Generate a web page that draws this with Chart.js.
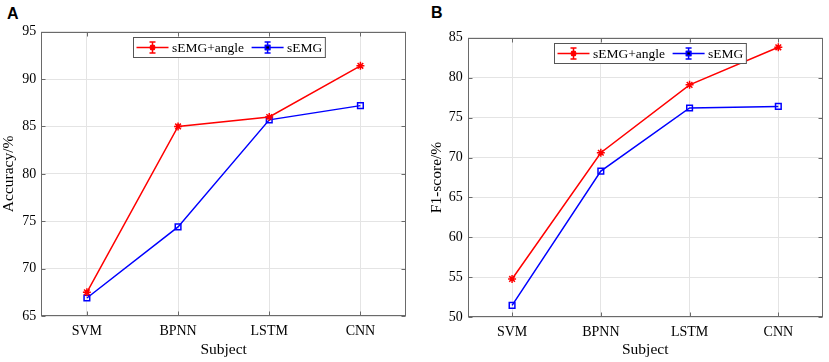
<!DOCTYPE html>
<html>
<head>
<meta charset="utf-8">
<script src="https://cdn.jsdelivr.net/npm/chart.js@4.4.1/dist/chart.umd.min.js"></script>
<style>
  html, body { margin: 0; padding: 0; background: #fff; }
  #wrap { position: relative; width: 829px; height: 362px; overflow: hidden; }
  canvas { position: absolute; top: 0; }
  .tag { position: absolute; font: bold 16px "Liberation Sans", Arial, sans-serif; color: #000; }
</style>
</head>
<body>
<div id="wrap">
  <div class="tag" style="left:7px; top:5px;">A</div>
  <div class="tag" style="left:431px; top:4px;">B</div>
  <canvas id="chartA" width="414" height="362" style="left:0px;"></canvas>
  <canvas id="chartB" width="401" height="362" style="left:428px;"></canvas>
</div>
<script>
// data
var subjects = ['SVM', 'BPNN', 'LSTM', 'CNN'];
var accAngle = [67.5, 85.0, 86.0, 91.4];
var accEmg = [66.9, 74.4, 85.7, 87.2];
var f1Angle = [54.8, 70.6, 79.1, 83.8];
var f1Emg = [51.5, 68.3, 76.2, 76.4];
var seriesNames = ['sEMG+angle', 'sEMG'];

var serif = '"Liberation Serif", "Times New Roman", serif';
var axisColor = '#6a6a6a';
var gridColor = '#e4e4e4';

// box round the plot with inward ticks, plus the MATLAB-style legend inside it
var framePlugin = {
  id: 'frame',
  afterDraw: function(chart) {
    var ctx = chart.ctx, a = chart.chartArea, x = chart.scales.x, y = chart.scales.y;
    var L = Math.round(a.left) + 0.5, R = Math.round(a.right) - 0.5;
    var T = Math.round(a.top) + 0.5, B = Math.round(a.bottom) - 0.5;
    ctx.save();
    ctx.strokeStyle = axisColor;
    ctx.lineWidth = 1;
    ctx.strokeRect(L, T, R - L, B - T);
    ctx.beginPath();
    for (var i = 0; i < x.ticks.length; i++) {
      var px = Math.round(x.getPixelForTick(i)) + 0.5;
      ctx.moveTo(px, B); ctx.lineTo(px, B - 4);
      ctx.moveTo(px, T); ctx.lineTo(px, T + 4);
    }
    for (var j = 0; j < y.ticks.length; j++) {
      var py = Math.round(y.getPixelForTick(j)) + 0.5;
      ctx.moveTo(L, py); ctx.lineTo(L + 4, py);
      ctx.moveTo(R, py); ctx.lineTo(R - 4, py);
    }
    ctx.stroke();

    // legend
    var ds = chart.data.datasets;
    ctx.font = '13.5px ' + serif;
    var lineLen = 32, pad = 3, gapText = 3.5, gapItem = 7.5;
    var w = pad;
    ds.forEach(function(d, k) {
      w += lineLen + gapText + ctx.measureText(d.label).width + (k < ds.length - 1 ? gapItem : pad);
    });
    var h = 20;
    var bx = Math.round((a.left + a.right) / 2 + 5 - w / 2) + 0.5;
    var by = Math.round(a.top + 5) + 0.5;
    ctx.fillStyle = '#fff';
    ctx.fillRect(bx, by, w, h);
    ctx.strokeStyle = '#555';
    ctx.strokeRect(bx, by, w, h);
    var cx = bx + pad, cy = by + h / 2;
    ds.forEach(function(d, k) {
      ctx.strokeStyle = d.borderColor;
      ctx.lineWidth = 1.5;
      ctx.beginPath();
      ctx.moveTo(cx, cy); ctx.lineTo(cx + lineLen, cy);
      var mx = cx + lineLen / 2;
      ctx.moveTo(mx, cy - 5.5); ctx.lineTo(mx, cy + 5.5);
      ctx.moveTo(mx - 3, cy - 5.5); ctx.lineTo(mx + 3, cy - 5.5);
      ctx.moveTo(mx - 3, cy + 5.5); ctx.lineTo(mx + 3, cy + 5.5);
      ctx.stroke();
      Chart.helpers.drawPoint(ctx, {
        pointStyle: d.pointStyle, radius: 3, rotation: 0, borderWidth: 1.5
      }, mx, cy);
      ctx.stroke();
      cx += lineLen + gapText;
      ctx.fillStyle = '#000';
      ctx.textBaseline = 'middle';
      ctx.textAlign = 'left';
      ctx.fillText(d.label, cx, cy + 0.5);
      cx += ctx.measureText(d.label).width + gapItem;
    });
    ctx.restore();
  }
};

function makeChart(id, angleVals, emgVals, yMin, yMax, yTitle, pad, yWidth, xHeight) {
  return new Chart(document.getElementById(id), {
    type: 'line',
    data: {
      labels: subjects,
      datasets: [
        {
          label: seriesNames[0],
          data: angleVals,
          borderColor: '#ff0000',
          backgroundColor: 'transparent',
          borderWidth: 1.5,
          pointStyle: 'star',
          pointRadius: 4,
          pointBorderWidth: 1.5,
          pointBorderColor: '#ff0000',
          tension: 0
        },
        {
          label: seriesNames[1],
          data: emgVals,
          borderColor: '#0000ff',
          backgroundColor: 'transparent',
          borderWidth: 1.5,
          pointStyle: 'rect',
          pointRadius: 4,
          pointBorderWidth: 1.5,
          pointBorderColor: '#0000ff',
          pointBackgroundColor: 'transparent',
          tension: 0
        }
      ]
    },
    options: {
      animation: false,
      responsive: false,
      layout: { padding: pad },
      plugins: {
        legend: { display: false },
        tooltip: { enabled: false }
      },
      scales: {
        x: {
          type: 'category',
          offset: true,
          afterFit: function(s) { s.height = xHeight; },
          grid: { color: gridColor, drawTicks: false, lineWidth: 1 },
          border: { display: false },
          ticks: { color: '#000', padding: 7, font: { family: serif, size: 14 } },
          title: { display: true, text: 'Subject', color: '#000', padding: 0, font: { family: serif, size: 15.5 } }
        },
        y: {
          type: 'linear',
          min: yMin,
          max: yMax,
          afterFit: function(s) { s.width = yWidth; },
          grid: { color: gridColor, drawTicks: false, lineWidth: 1 },
          border: { display: false },
          ticks: { stepSize: 5, color: '#000', padding: 5, font: { family: serif, size: 14 } },
          title: { display: true, text: yTitle, color: '#000', padding: 0, font: { family: serif, size: 15.5 } }
        }
      }
    },
    plugins: [framePlugin]
  });
}

var chartA = makeChart('chartA', accAngle, accEmg, 65, 95, 'Accuracy/%',
  { top: 31.7, right: 8, left: 0, bottom: 3 }, 41.3, 43);
var chartB = makeChart('chartB', f1Angle, f1Emg, 50, 85, 'F1-score/%',
  { top: 37.7, right: 6.3, left: 0, bottom: 3 }, 39.7, 41.7);
</script>
</body>
</html>
